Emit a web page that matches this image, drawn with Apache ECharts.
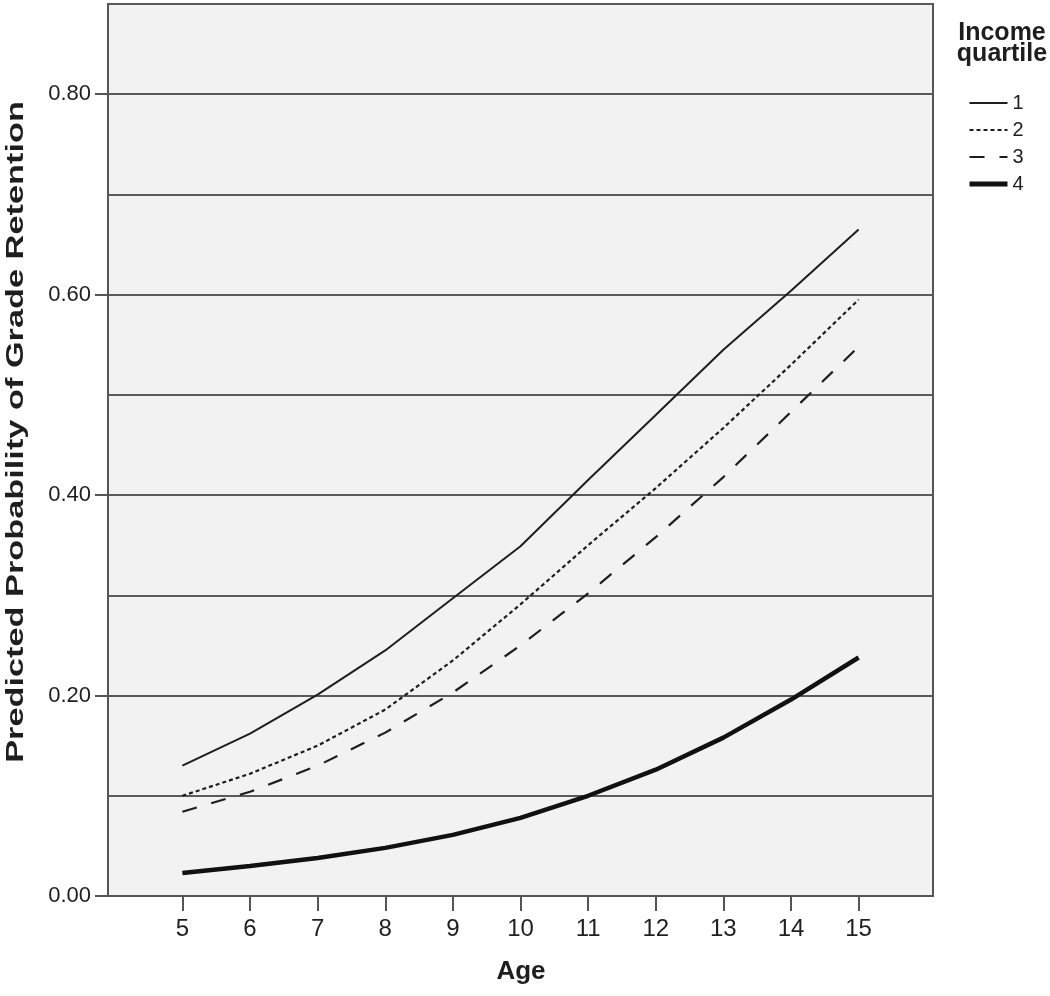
<!DOCTYPE html>
<html>
<head>
<meta charset="utf-8">
<script src="https://cdn.jsdelivr.net/npm/echarts@6/dist/echarts.min.js"></script>
<style>html,body{margin:0;padding:0;background:#fff;}#c{width:1050px;height:996px;}</style>
</head>
<body>
<div id="c"></div>
<script>
var ages = [5, 6, 7, 8, 9, 10, 11, 12, 13, 14, 15];
var q1 = [0.130, 0.162, 0.201, 0.245, 0.297, 0.349, 0.415, 0.480, 0.545, 0.604, 0.665];
var q2 = [0.100, 0.122, 0.150, 0.186, 0.235, 0.291, 0.350, 0.407, 0.467, 0.530, 0.595];
var q3 = [0.084, 0.104, 0.130, 0.163, 0.203, 0.250, 0.302, 0.358, 0.418, 0.483, 0.548];
var q4 = [0.023, 0.030, 0.038, 0.048, 0.061, 0.078, 0.100, 0.126, 0.158, 0.196, 0.238];
var seriesNames = ['1', '2', '3', '4'];
var xTicks = [5, 6, 7, 8, 9, 10, 11, 12, 13, 14, 15];
var yTicks = [0, 0.2, 0.4, 0.6, 0.8];

function pairs(ys) { return ages.map(function (a, i) { return [a, ys[i]]; }); }

var font = 'Liberation Sans, Arial, sans-serif';
var dark = '#1e1e1e';
var axisCol = '#555555';
var legendWidths = [2, 2, 2.2, 5];

var chart = echarts.init(document.getElementById('c'), null, { renderer: 'canvas' });
chart.setOption({
  animation: false,
  backgroundColor: '#ffffff',
  title: {
    text: 'Income\nquartile',
    left: 997, top: 18, textAlign: 'center',
    textStyle: { fontFamily: font, fontWeight: 'bold', fontSize: 25, lineHeight: 21, color: dark }
  },
  legend: {
    orient: 'vertical', left: 962, top: 88,
    itemWidth: 38, itemHeight: 14, itemGap: 7,
    data: seriesNames.map(function (n, i) { return { name: n, lineStyle: { width: legendWidths[i] } }; }),
    itemStyle: { color: 'rgba(0,0,0,0)', borderWidth: 0, opacity: 0 },
    lineStyle: { opacity: 1 },
    textStyle: { fontFamily: font, fontSize: 20, color: dark, padding: [0, 0, 0, 0] }
  },
  grid: {
    left: 108, top: 4, width: 825, height: 892,
    show: true, backgroundColor: '#f2f2f2', borderColor: axisCol, borderWidth: 2
  },
  xAxis: {
    type: 'value', min: 3.9, max: 16.1,
    axisLine: { show: true, lineStyle: { color: axisCol, width: 2 } },
    axisTick: { show: true, length: 15, lineStyle: { color: axisCol, width: 2 }, customValues: xTicks },
    axisLabel: { fontFamily: font, fontSize: 24, color: dark, margin: 21, customValues: xTicks },
    splitLine: { show: false }
  },
  yAxis: [
    {
      type: 'value', min: 0, max: 0.89, interval: 0.1,
      axisLine: { show: true, lineStyle: { color: axisCol, width: 2 } },
      axisTick: { show: true, length: 13, inside: false, lineStyle: { color: axisCol, width: 2 },
        customValues: yTicks },
      axisLabel: { fontFamily: font, fontSize: 22, color: dark, margin: 17,
        customValues: yTicks,
        formatter: function (v) { return v.toFixed(2); } },
      splitLine: { show: false }
    },
    {
      type: 'value', min: 0, max: 0.89, interval: 0.1, position: 'left',
      axisLine: { show: false }, axisTick: { show: false }, axisLabel: { show: false },
      splitLine: { show: true, lineStyle: { color: '#5a5a5a', width: 2 } }
    }
  ],
  graphic: [
    {
      type: 'text', x: 16, y: 432, rotation: Math.PI / 2, scaleX: 1.43, scaleY: 1,
      style: { text: 'Predicted Probability of Grade Retention', fontFamily: font, fontWeight: 'bold',
        fontSize: 24, fill: dark, align: 'center', verticalAlign: 'middle' }
    },
    {
      type: 'text', x: 521, y: 972,
      style: { text: 'Age', fontFamily: font, fontWeight: 'bold', fontSize: 26, fill: dark,
        align: 'center', verticalAlign: 'middle' }
    }
  ],
  series: [
    { name: '1', type: 'line', data: pairs(q1), symbol: 'none', z: 3,
      lineStyle: { color: dark, width: 2, type: 'solid' }, itemStyle: { color: dark } },
    { name: '2', type: 'line', data: pairs(q2), symbol: 'none', z: 3,
      lineStyle: { color: dark, width: 2.2, type: [4, 3] }, itemStyle: { color: dark } },
    { name: '3', type: 'line', data: pairs(q3), symbol: 'none', z: 3,
      lineStyle: { color: dark, width: 2.2, type: [15, 15] }, itemStyle: { color: dark } },
    { name: '4', type: 'line', data: pairs(q4), symbol: 'none', z: 3,
      lineStyle: { color: '#111', width: 4.5, type: 'solid' }, itemStyle: { color: '#111' } }
  ]
});
</script>
</body>
</html>
